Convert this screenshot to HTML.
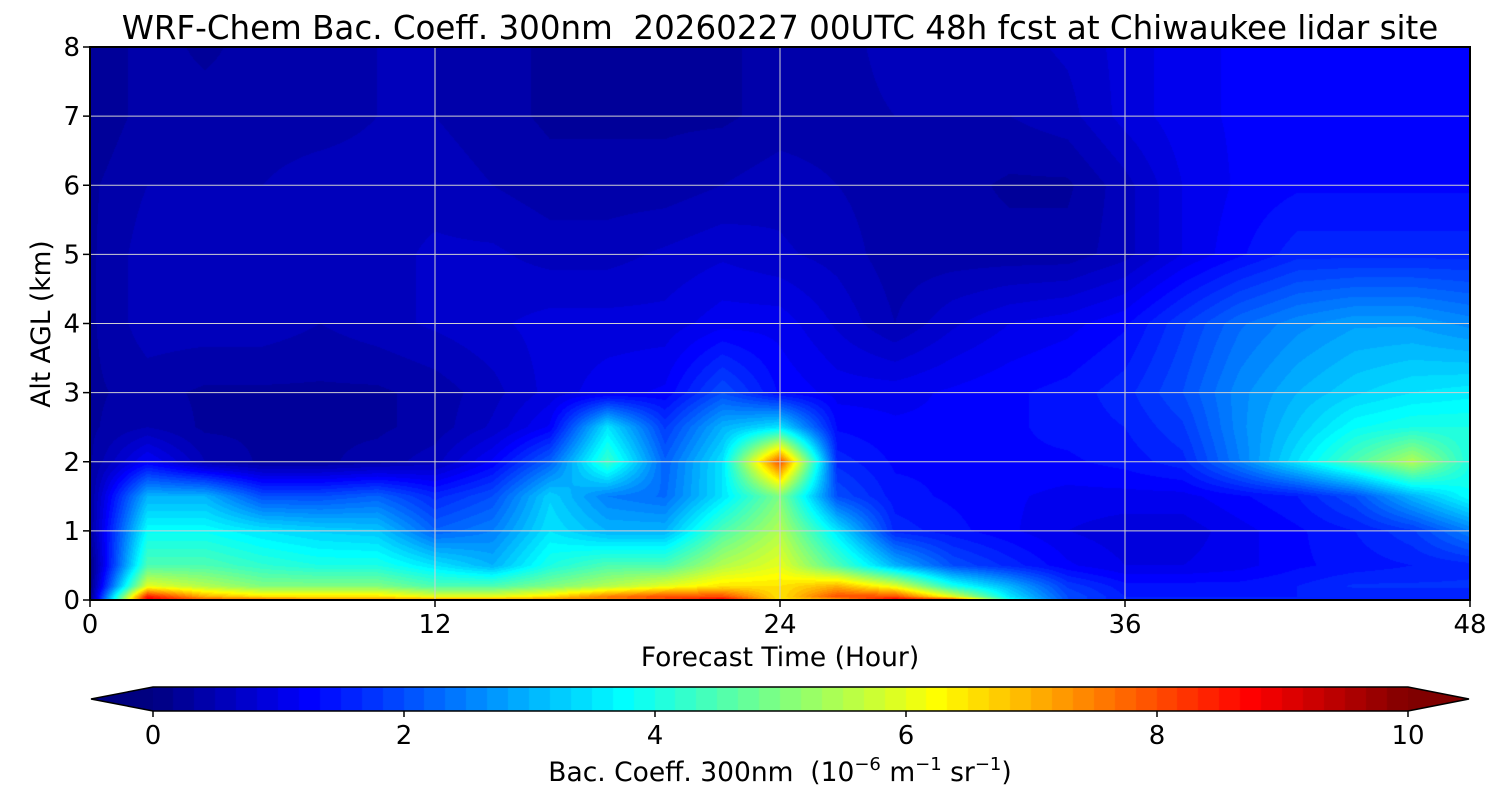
<!DOCTYPE html>
<html><head><meta charset="utf-8">
<style>
body{margin:0;background:#fff;width:1500px;height:800px;overflow:hidden;font-family:"Liberation Sans","DejaVu Sans",sans-serif;}
#wrap{position:relative;width:1500px;height:800px;}
canvas{position:absolute;}
svg{position:absolute;left:0;top:0;}
text{font-family:"DejaVu Sans","Liberation Sans",sans-serif;fill:#000;white-space:pre;}
</style></head>
<body>
<div id="wrap">
<canvas id="heat" width="1380" height="553" style="left:90px;top:47px"></canvas>
<canvas id="cbar" width="1255" height="24" style="left:153px;top:687px"></canvas>
<svg id="ov" width="1500" height="800"></svg>
</div>
<script>
const hours=[0,2,4,6,8,10,12,14,16,18,20,22,24,26,28,30,32,34,36,38,40,42,44,46,48];
const heights=[0,0.05,0.2,0.5,1,1.5,2,2.5,3,4,5,6,7,8];
const values=[
[0,9,8,8,7.5,7.5,7.5,7.5,7.5,7.5,8,9,6.5,7,9,8.5,4,2,1.5,1.5,1.5,1.5,1.5,1.5,1.5],
[0,8.5,7,6.5,6.5,6.5,6,6,6.5,7.5,8,8,6.5,8,8,6,3.5,2,1.5,1.5,1.5,1.5,1.5,1.5,1.5],
[0,6,5.5,5,5,5,4.5,4.5,5,5.5,6,6.5,6.5,7,6,4,3,1.8,1.4,1.4,1.4,1.5,1.7,1.7,1.7],
[0,4.5,4.5,4.2,4,4,3.5,3,4,4.5,4.5,5.5,6,4.5,3,2,1.6,1.2,1.0,1.0,1.1,1.3,1.4,1.5,1.6],
[0.3,3.8,3.8,3.5,3.3,3.2,2.2,2.5,3.5,3,3,4.5,5.5,3.5,1.6,1.4,1.2,1.0,0.9,0.9,1.1,1.3,1.5,1.8,2.5],
[0.3,3,3,2,2,2.2,1.6,2,3.3,2.5,2.3,3.5,5,2,1.4,1.3,1.2,1.1,1.1,1.1,1.3,1.5,2,3,3.8],
[0.3,1.2,0.5,0.3,0.3,0.4,0.6,1.2,2.2,4.3,2.2,3.5,8,1.6,1.3,1.3,1.3,1.3,1.4,1.6,2.5,3.5,4.5,5.5,4],
[0.3,0.5,0.3,0.3,0.3,0.3,0.4,0.7,1.2,3.5,1.8,3,3.5,1.3,1.2,1.2,1.3,1.4,1.5,1.8,2.6,3.2,3.8,4,4],
[0.3,0.4,0.3,0.3,0.3,0.3,0.4,0.6,0.9,1.1,1.2,2,1.3,1.1,1.1,1.2,1.3,1.4,1.6,2,2.6,3,3.3,3.5,3.6],
[0.3,0.6,0.6,0.6,0.5,0.6,0.7,0.8,0.9,0.9,0.9,1.1,1.1,0.8,0.5,0.8,1,1.1,1.3,1.8,2.3,2.6,2.8,2.8,2.6],
[0.3,0.6,0.6,0.6,0.6,0.6,0.7,0.7,0.6,0.6,0.7,0.8,0.7,0.6,0.4,0.4,0.4,0.4,0.6,1,1.3,1.6,1.6,1.6,1.6],
[0.3,0.5,0.5,0.5,0.6,0.6,0.6,0.5,0.4,0.4,0.4,0.5,0.6,0.5,0.4,0.4,0.3,0.3,0.6,1,1.2,1.3,1.3,1.3,1.3],
[0.2,0.4,0.4,0.4,0.4,0.5,0.5,0.4,0.3,0.3,0.3,0.3,0.4,0.4,0.5,0.5,0.5,0.6,0.9,1.1,1.2,1.3,1.3,1.3,1.3],
[0.2,0.4,0.3,0.4,0.4,0.5,0.5,0.4,0.3,0.3,0.3,0.3,0.4,0.4,0.6,0.6,0.6,0.7,0.9,1.1,1.2,1.3,1.3,1.3,1.3]
];
const xTicks=[0,12,24,36,48];
const yTicks=[0,1,2,3,4,5,6,7,8];
const cTicks=[0,2,4,6,8,10];

const PX=90,PY=47,PW=1380,PH=553,XMAX=48,YMAX=8,VMAX=10;
const xs=h=>PX+h/XMAX*PW;
const ys=k=>PY+PH-k/YMAX*PH;
function jet(t){t=Math.max(0,Math.min(1,t));const c=v=>Math.round(255*Math.max(0,Math.min(1,v)));
return [c(1.5-Math.abs(4*t-3)),c(1.5-Math.abs(4*t-2)),c(1.5-Math.abs(4*t-1))];}
function idx(arr,v){let i=0;while(i<arr.length-2&&v>arr[i+1])i++;return i;}
const hc=document.getElementById('heat').getContext('2d');
const img=hc.createImageData(PW,PH);
for(let py=0;py<PH;py++){
 const k=(PH-py-0.5)/PH*YMAX;const j=idx(heights,k);
 const fy=Math.max(0,Math.min(1,(k-heights[j])/(heights[j+1]-heights[j])));
 for(let px=0;px<PW;px++){
  const h=(px+0.5)/PW*XMAX;const i=idx(hours,h);
  const fx=Math.max(0,Math.min(1,(h-hours[i])/(hours[i+1]-hours[i])));
  const v=(values[j][i]*(1-fx)+values[j][i+1]*fx)*(1-fy)+(values[j+1][i]*(1-fx)+values[j+1][i+1]*fx)*fy;
  const q=Math.floor(v*6)/6+1/12;
  const c=jet(q/VMAX);const o=(py*PW+px)*4;
  img.data[o]=c[0];img.data[o+1]=c[1];img.data[o+2]=c[2];img.data[o+3]=255;
 }}
hc.putImageData(img,0,0);
const cc=document.getElementById('cbar').getContext('2d');
const N=60;for(let n=0;n<N;n++){const c=jet((n+0.5)/N);cc.fillStyle=`rgb(${c})`;cc.fillRect(Math.floor(n*1255/N),0,Math.ceil(1255/N)+1,24);}
const svg=document.getElementById('ov');const NS='http://www.w3.org/2000/svg';
function el(tag,attrs,txt){const e=document.createElementNS(NS,tag);for(const a in attrs)e.setAttribute(a,attrs[a]);if(txt!=null)e.textContent=txt;svg.appendChild(e);return e;}
xTicks.forEach(t=>{
 if(t>0&&t<XMAX){const g=el('line',{x1:xs(t),x2:xs(t),y1:PY,y2:PY+PH,stroke:'#d0d0d0','stroke-width':1});
 
 }
 const tk=el('line',{x1:xs(t),x2:xs(t),y1:PY+PH,y2:PY+PH+7,stroke:'#000','stroke-width':1.5});
 
 
 const lb=el('text',{x:xs(t),y:633,'font-size':26,'text-anchor':'middle'},t);
 
 
});
yTicks.forEach(t=>{
 if(t>0&&t<YMAX){const g=el('line',{x1:PX,x2:PX+PW,y1:ys(t),y2:ys(t),stroke:'#d0d0d0','stroke-width':1});
 
 }
 const tk=el('line',{x1:PX-7,x2:PX,y1:ys(t),y2:ys(t),stroke:'#000','stroke-width':1.5});
 
 
 const lb=el('text',{x:80,y:ys(t)+9,'font-size':26,'text-anchor':'end'},t);
 
 
});
const fr=el('rect',{x:PX,y:PY,width:PW,height:PH,fill:'none',stroke:'#000','stroke-width':2});


const ti=el('text',{x:780,y:39,'font-size':32.5,'text-anchor':'middle','xml:space':'preserve'},'WRF-Chem Bac. Coeff. 300nm  20260227 00UTC 48h fcst at Chiwaukee lidar site');


const xl=el('text',{x:780,y:666,'font-size':26.5,'text-anchor':'middle'},'Forecast Time (Hour)');


const yl=el('text',{x:0,y:0,'font-size':26.5,'text-anchor':'middle',transform:'translate(50,324) rotate(-90)'},'Alt AGL (km)');


const lt=jet(0),rt=jet(1);
const tl=el('polygon',{points:'153,687 91,699 153,711',fill:`rgb(${lt})`});


const tr=el('polygon',{points:'1408,687 1469,699 1408,711',fill:`rgb(${rt})`});


const co=el('polygon',{points:'153,687 1408,687 1469,699 1408,711 153,711 91,699',fill:'none',stroke:'#000','stroke-width':1.5});


cTicks.forEach(t=>{const x=153+t/VMAX*1255;
 const tk=el('line',{x1:x,x2:x,y1:711,y2:717,stroke:'#000','stroke-width':1.5});
 
 
 const lb=el('text',{x:x,y:744,'font-size':26,'text-anchor':'middle'},t);
 
 
});
const cl=el('text',{x:780,y:781,'font-size':26.5,'text-anchor':'middle','xml:space':'preserve'});


cl.innerHTML='Bac. Coeff. 300nm  (10<tspan dy="-11" font-size="18">−6</tspan><tspan dy="11"> m</tspan><tspan dy="-11" font-size="18">−1</tspan><tspan dy="11"> sr</tspan><tspan dy="-11" font-size="18">−1</tspan><tspan dy="11">)</tspan>';
</script>
</body></html>
